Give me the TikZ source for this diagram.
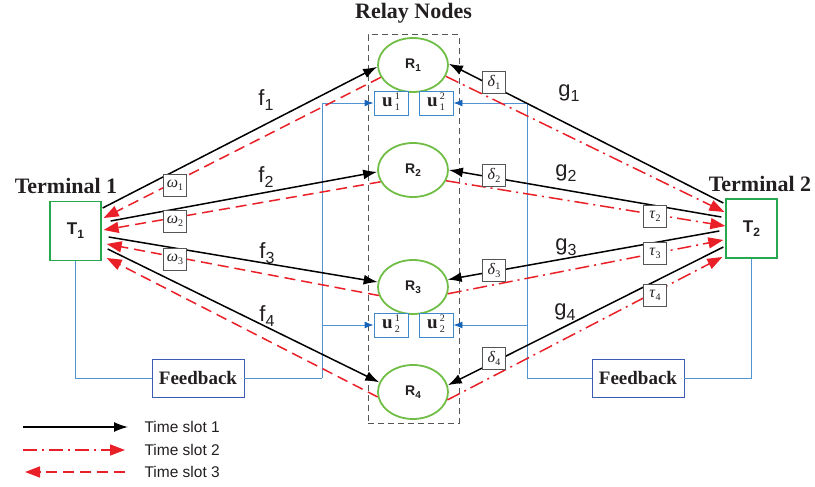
\documentclass[tikz,border=0pt]{standalone}
\usepackage{fontspec}
\setmainfont{Liberation Serif}
\setsansfont{Liberation Sans}
\usetikzlibrary{arrows.meta,shapes.geometric}

\definecolor{relaygreen}{RGB}{112,190,70}
\definecolor{termgreen}{RGB}{40,168,78}
\definecolor{sigred}{RGB}{234,32,40}
\definecolor{busblue}{RGB}{82,148,210}
\definecolor{tipblue}{RGB}{22,100,186}
\definecolor{fbframe}{RGB}{60,92,178}
\definecolor{uframe}{RGB}{62,138,202}
\definecolor{ink}{RGB}{35,31,32}
\definecolor{boxgray}{RGB}{85,85,85}

\newcommand\fsz[1]{\fontsize{#1}{#1}\selectfont}
\newcommand\chan[2]{#1\raisebox{-4.5pt}{\fsz{16}#2}}
\newcommand\tagsym[2]{\textit{#1}\raisebox{-3pt}{\fsz{10}#2}}
\newcommand\relaylbl[1]{R\raisebox{-3pt}{\fsz{10}#1}}
\newcommand\termlbl[1]{T\raisebox{-4pt}{\fsz{12}#1}}
% bold u with stacked upper and lower index
\newcommand\ulbl[2]{\textbf{u}\hspace{2pt}\raisebox{1pt}{\fsz{10}\begin{tabular}{@{}c@{}}#2\\[1pt]#1\end{tabular}}}

\begin{document}
\begin{tikzpicture}[x=1pt,y=-1pt,
  relay/.style={ellipse,draw=relaygreen,line width=1.8pt,minimum width=70pt,minimum height=54pt,inner sep=0pt,text=ink,font=\sffamily\bfseries\fsz{14}},
  terminal/.style={rectangle,draw=termgreen,line width=1.3pt,minimum width=51pt,minimum height=59pt,inner sep=0pt,text=ink,font=\sffamily\bfseries\fsz{17}},
  heading/.style={text=ink,font=\bfseries\fsz{22}},
  fbbox/.style={rectangle,draw=fbframe,line width=0.9pt,minimum width=92pt,minimum height=38pt,inner sep=0pt,text=ink,font=\bfseries\fsz{19}},
  ubox/.style={rectangle,draw=uframe,line width=0.9pt,fill=white,minimum width=34pt,minimum height=24pt,inner sep=0pt,text=ink,font=\fsz{19}},
  tag/.style={rectangle,draw=boxgray,line width=0.8pt,fill=white,minimum width=23pt,minimum height=22pt,inner sep=0pt,text=ink,font=\fsz{16}},
  chanlbl/.style={text=ink,font=\sffamily\fsz{22}},
  legendtxt/.style={anchor=west,text=ink,font=\sffamily\fsz{15.5}},
  groupbox/.style={rectangle,draw=boxgray,line width=1pt,dash pattern=on 6pt off 4pt,minimum width=91pt,minimum height=388pt,inner sep=0pt},
  slotone/.style={draw=black,line width=1.5pt,-{Latex[length=14pt,width=10pt]}},
  slottwo/.style={draw=sigred,line width=1.5pt,dash pattern=on 14pt off 5pt on 2pt off 5pt,-{Triangle[length=15pt,width=11pt]}},
  slotthree/.style={draw=sigred,line width=1.5pt,dash pattern=on 11pt off 6pt,-{Triangle[length=15pt,width=11pt]}},
  bus/.style={draw=busblue,line width=0.9pt},
  busarrow/.style={bus,-{Latex[color=tipblue,length=9pt,width=7pt]}},
]
\useasboundingbox (0,0) rectangle (815,487);

% relay group
\node[heading] (title) at (413.5,13) {Relay Nodes};
\node[groupbox] (group) at (413.5,229) {};

\node[relay] (R1) at (413,65)  {\relaylbl{1}};
\node[relay] (R2) at (413,170) {\relaylbl{2}};
\node[relay] (R3) at (413,287) {\relaylbl{3}};
\node[relay] (R4) at (413,392) {\relaylbl{4}};

% terminals
\node[terminal] (T1) at (75.5,231) {\termlbl{1}};
\node[terminal] (T2) at (751.5,228.5) {\termlbl{2}};
\node[heading] (T1name) at (66,186) {Terminal 1};
\node[heading] (T2name) at (760,184) {Terminal 2};

% feedback boxes and buses
\node[fbbox] (fbL) at (198,378) {Feedback};
\node[fbbox] (fbR) at (638,378) {Feedback};
\coordinate (busL) at (322,378);
\coordinate (busR) at (527,378);

\node[ubox] (u11) at (391,103) {\ulbl{1}{1}};
\node[ubox] (u12) at (436,103) {\ulbl{1}{2}};
\node[ubox] (u21) at (391,325) {\ulbl{2}{1}};
\node[ubox] (u22) at (436,325) {\ulbl{2}{2}};

\draw[bus] (T1.south) |- (fbL.west);
\draw[bus] (fbL.east) -- (busL);
\draw[busarrow] (busL) |- (u11.west);
\draw[busarrow] (busL |- u21.west) -- (u21.west);

\draw[bus] (T2.south) |- (fbR.east);
\draw[bus] (fbR.west) -- (busR);
\draw[busarrow] (busR) |- (u12.east);
\draw[busarrow] (busR |- u22.east) -- (u22.east);

% time slot 1: terminals to relays
\draw[slotone] ([xshift=1pt,yshift=23pt]T1.east) -- (R1.183);
\draw[slotone] ([xshift=9pt,yshift=10pt]T1.east) -- (R2.183);
\draw[slotone] ([xshift=7pt,yshift=-6pt]T1.east) -- (R3.172);
\draw[slotone] ([xshift=6pt,yshift=-18pt]T1.east) -- (R4.164);

\draw[slotone] ([xshift=-2pt,yshift=25.5pt]T2.west) -- (R1.2);
\draw[slotone] ([xshift=-4pt,yshift=11.5pt]T2.west) -- (R2.0);
\draw[slotone] ([xshift=-6pt,yshift=-2.5pt]T2.west) -- (R3.12);
\draw[slotone] ([xshift=-2pt,yshift=-18.5pt]T2.west) -- (R4.11);

% time slot 3: relays to terminal 1
\draw[slotthree] (R1.201) -- ([xshift=2pt,yshift=13pt]T1.east);
\draw[slotthree] (R2.200) -- ([xshift=2pt,yshift=1pt]T1.east);
\draw[slotthree] (R3.194) -- ([xshift=5pt,yshift=-13pt]T1.east);
\draw[slotthree] (R4.188) -- ([xshift=5pt,yshift=-27pt]T1.east);

% time slot 2: relays to terminal 2
\draw[slottwo] (R1.341) -- ([xshift=-1pt,yshift=16.5pt]T2.west);
\draw[slottwo] (R2.342) -- ([xshift=0pt,yshift=2.5pt]T2.west);
\draw[slottwo] (R3.349) -- ([xshift=-2pt,yshift=-11.5pt]T2.west);
\draw[slottwo] (R4.347) -- ([xshift=-3pt,yshift=-28.5pt]T2.west);

% channel labels
\node[chanlbl] (f1) at (266,100) {\chan{f}{1}};
\node[chanlbl] (f2) at (266,177) {\chan{f}{2}};
\node[chanlbl] (f3) at (267,253) {\chan{f}{3}};
\node[chanlbl] (f4) at (267,316) {\chan{f}{4}};
\node[chanlbl] (g1) at (569,93)  {\chan{g}{1}};
\node[chanlbl] (g2) at (566,173) {\chan{g}{2}};
\node[chanlbl] (g3) at (566,247) {\chan{g}{3}};
\node[chanlbl] (g4) at (565,312) {\chan{g}{4}};

% coefficient tags
\node[tag] (w1) at (175,185) {\tagsym{ω}{1}};
\node[tag] (w2) at (175,221) {\tagsym{ω}{2}};
\node[tag] (w3) at (175,259) {\tagsym{ω}{3}};
\node[tag] (d1) at (494,82)  {\tagsym{δ}{1}};
\node[tag] (d2) at (494,175) {\tagsym{δ}{2}};
\node[tag] (d3) at (494,270) {\tagsym{δ}{3}};
\node[tag] (d4) at (494,358) {\tagsym{δ}{4}};
\node[tag] (t2) at (655,216) {\tagsym{τ}{2}};
\node[tag] (t3) at (655,253) {\tagsym{τ}{3}};
\node[tag] (t4) at (655,295) {\tagsym{τ}{4}};

% legend
\coordinate (lgA1) at (23,427);  \coordinate (lgB1) at (128,427);
\coordinate (lgA2) at (23,450);  \coordinate (lgB2) at (125,450);
\coordinate (lgA3) at (125,472); \coordinate (lgB3) at (25,472);
\draw[slotone] (lgA1) -- (lgB1);
\draw[slottwo] (lgA2) -- (lgB2);
\draw[slotthree] (lgA3) -- (lgB3);
\node[legendtxt] (lg1) at (141,427) {Time slot 1};
\node[legendtxt] (lg2) at (141,450) {Time slot 2};
\node[legendtxt] (lg3) at (141,472) {Time slot 3};
\end{tikzpicture}
\end{document}
